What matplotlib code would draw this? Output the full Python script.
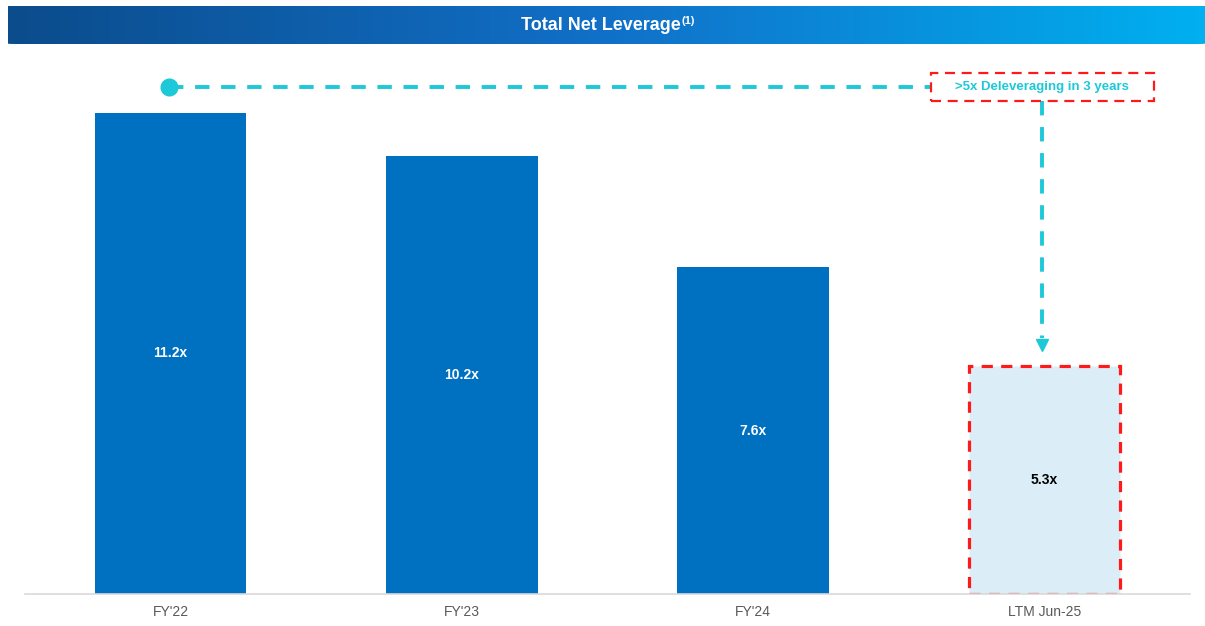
import numpy as np
import matplotlib
matplotlib.use("Agg")
import matplotlib.pyplot as plt
from matplotlib.patches import FancyBboxPatch, Rectangle

plt.rcParams['font.family'] = ['Liberation Sans', 'DejaVu Sans']

# data
categories = ["FY'22", "FY'23", "FY'24", "LTM Jun-25"]
leverage = [11.2, 10.2, 7.6, 5.3]
labels = ["11.2x", "10.2x", "7.6x", "5.3x"]
callout = ">5x Deleveraging in 3 years"

bar_blue = '#0070c0'
cyan = '#1dc9d8'
red = '#ff1a1a'

fig = plt.figure(figsize=(12.05, 6.26), dpi=100)

# title banner with gradient
bax = fig.add_axes([8 / 1205, 1 - 44 / 626, 1197 / 1205, 38 / 626])
grad = np.linspace(0, 1, 512).reshape(1, -1)
cmap = matplotlib.colors.LinearSegmentedColormap.from_list('ban', ['#0b4c8c', '#1170c8', '#00b0f0'])
im = bax.imshow(grad, aspect='auto', cmap=cmap, extent=[0, 1, 0, 1])
clip = FancyBboxPatch((0, 0), 1, 1.4, boxstyle='round,pad=0,rounding_size=0.008',
                      transform=bax.transAxes, facecolor='none', edgecolor='none')
bax.add_patch(clip)
im.set_clip_path(clip)
bax.set_xlim(0, 1)
bax.set_ylim(0, 1)
bax.axis('off')
t = fig.text(0.4985, 1 - 26 / 626, 'Total Net Leverage', color='white', fontsize=13,
             fontweight='bold', ha='center', va='center')
fig.canvas.draw()
bb = t.get_window_extent()
fig.text(bb.x1 / fig.bbox.width + 0.0005, 1 - 21 / 626, '(1)', color='white', fontsize=8,
         fontweight='bold', ha='left', va='center')

# main chart
ax = fig.add_axes([25 / 1205, 1 - 594 / 626, 1165 / 1205, 534 / 626])
x = np.arange(len(categories))
w = 0.52
ax.bar(x[:3], leverage[:3], width=w, color=bar_blue, zorder=2)
ax.bar(x[3], leverage[3], width=w, color='#dbeef8', edgecolor=red, linewidth=2.3,
       linestyle=(0, (3.5, 2.6)), zorder=2)

for i, (v, lab) in enumerate(zip(leverage, labels)):
    ax.text(x[i], v / 2, lab, ha='center', va='center', fontsize=10, fontweight='bold',
            color='white' if i < 3 else 'black', zorder=3)

ax.set_xlim(-0.5, 3.5)
ax.set_ylim(0, 12.43)
ax.set_xticks(x)
ax.set_xticklabels(categories, fontsize=10, color='#595959')
ax.tick_params(axis='x', length=0, pad=8)
ax.set_yticks([])
for s in ['top', 'right', 'left']:
    ax.spines[s].set_visible(False)
ax.spines['bottom'].set_color('#d9d9d9')
ax.spines['bottom'].set_linewidth(1.2)

# callout line and box
y_line = 11.8
x_box = 2.993
box_l, box_r = 2.612, 3.375
box_b, box_t = 11.48, 12.13
ax.plot([-0.007, box_l], [y_line, y_line], color=cyan, lw=2.8,
        linestyle=(0, (3.7, 3.0)), zorder=3, clip_on=False)
ax.plot([-0.007], [y_line], 'o', color=cyan, ms=12, zorder=4, clip_on=False)
ax.add_patch(Rectangle((box_l, box_b), box_r - box_l, box_t - box_b, facecolor='white',
                       edgecolor=red, linewidth=1.6, linestyle=(0, (4.5, 3)), zorder=5))
ax.text(x_box, y_line, callout, ha='center', va='center', fontsize=9.5, fontweight='bold',
        color=cyan, zorder=6)
ax.plot([x_box, x_box], [box_b, 5.95], color=cyan, lw=2.8,
        linestyle=(0, (3.7, 3.0)), zorder=3)
ax.plot([x_box], [5.8], marker='v', color=cyan, ms=9, zorder=3)

fig.savefig('out.png', dpi=100)
